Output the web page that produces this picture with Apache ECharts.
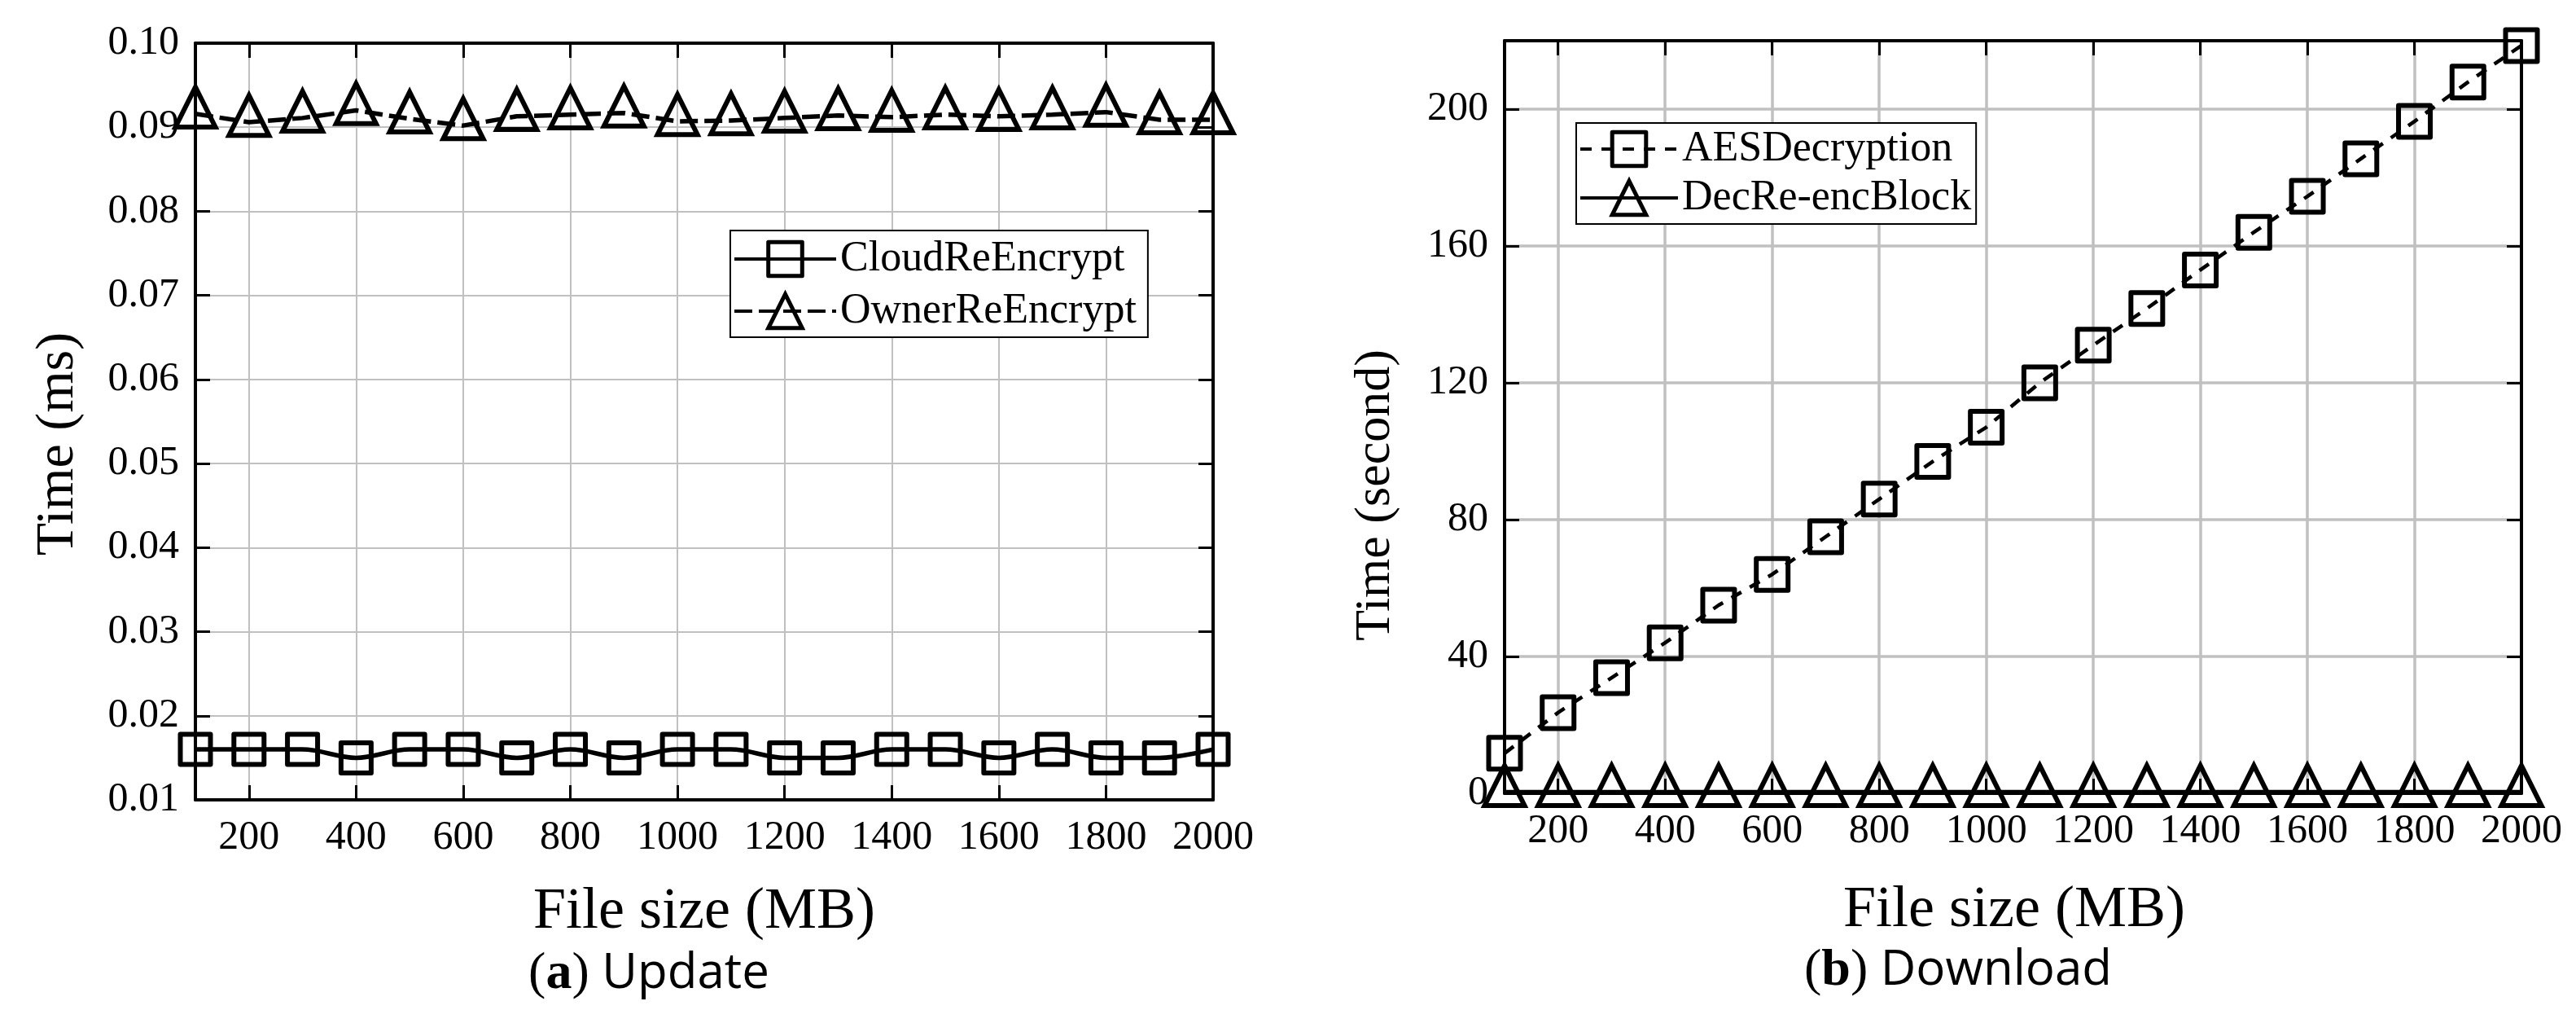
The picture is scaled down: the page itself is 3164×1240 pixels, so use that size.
<!DOCTYPE html>
<html>
<head>
<meta charset="utf-8">
<script src="https://cdn.jsdelivr.net/npm/echarts@6/dist/echarts.min.js"></script>
<style>
  html, body { margin: 0; padding: 0; background: #fff; }
  #main { width: 3164px; height: 1240px; }
</style>
</head>
<body>
<div id="main"></div>
<script>
// file sizes (MB)
var fileSizes = [100, 200, 300, 400, 500, 600, 700, 800, 900, 1000,
                 1100, 1200, 1300, 1400, 1500, 1600, 1700, 1800, 1900, 2000];

// (a) Update, time in ms
var cloudReEncrypt = [0.016, 0.016, 0.016, 0.015, 0.016, 0.016, 0.015, 0.016, 0.015, 0.016,
                      0.016, 0.015, 0.015, 0.016, 0.016, 0.015, 0.016, 0.015, 0.015, 0.016];
var ownerReEncrypt = [0.0916, 0.0906, 0.0911, 0.0920, 0.0910, 0.0902, 0.0913, 0.0915, 0.0917, 0.0907,
                      0.0908, 0.0911, 0.0914, 0.0912, 0.0915, 0.0913, 0.0915, 0.0918, 0.0909, 0.0909];

// (b) Download, time in seconds
var aesDecryption = [11.7, 23.6, 33.8, 44, 55, 64, 75, 86, 97, 107,
                     120, 131, 141.7, 153, 164, 174.5, 185.5, 196.4, 207.9, 218.6];
var decReencBlock = [0.3, 0.3, 0.3, 0.3, 0.3, 0.3, 0.3, 0.3, 0.3, 0.3,
                     0.3, 0.3, 0.3, 0.3, 0.3, 0.3, 0.3, 0.3, 0.3, 0.3];

var serif = '"Liberation Serif", "Times New Roman", serif';
var sans = '"Open Sans", "Noto Sans", sans-serif';

function pairs(xs, ys) {
    return xs.map(function (x, i) { return [x, ys[i]]; });
}

// bottom / left axes carry labels, top / right ones only line + ticks
function xAxisOf(grid, top, gridWidth) {
    return {
        type: 'value',
        gridIndex: grid,
        position: top ? 'top' : 'bottom',
        min: 100,
        max: 2000,
        splitNumber: 10,
        axisLine: { show: true, onZero: false, lineStyle: { color: '#000', width: 4 } },
        axisTick: { show: true, inside: true, length: 18, lineStyle: { color: '#000', width: 3 } },
        axisLabel: {
            show: !top, showMinLabel: false, margin: 22,
            color: '#000', fontFamily: serif, fontSize: 50,
            formatter: function (v) { return String(v); }
        },
        splitLine: { show: !top, lineStyle: { color: '#c0c0c0', width: gridWidth } }
    };
}

function yAxisOf(grid, right, min, max, step, fmt, gridWidth) {
    return {
        type: 'value',
        gridIndex: grid,
        position: right ? 'right' : 'left',
        min: min,
        max: max,
        interval: step,
        axisLine: { show: true, onZero: false, lineStyle: { color: '#000', width: 4 } },
        axisTick: { show: true, inside: true, length: 18, lineStyle: { color: '#000', width: 3 } },
        axisLabel: {
            show: !right, margin: 20, showMaxLabel: grid === 0,
            color: '#000', fontFamily: serif, fontSize: 50,
            formatter: fmt
        },
        splitLine: { show: !right, lineStyle: { color: '#c0c0c0', width: gridWidth } }
    };
}

function lineSeries(name, xi, yi, data, opt) {
    return {
        name: name,
        type: 'line',
        xAxisIndex: xi,
        yAxisIndex: yi,
        data: data,
        smooth: opt.smooth || false,
        symbol: opt.symbol,
        symbolSize: opt.size,
        symbolOffset: opt.offset || [0, 0],
        showAllSymbol: true,
        lineStyle: { color: '#000', width: opt.width, type: opt.dash || 'solid' },
        itemStyle: {
            color: 'rgba(255,255,255,0)',
            borderColor: '#000',
            borderWidth: 6,
            borderJoin: opt.join || 'miter'
        },
        emphasis: { disabled: true }
    };
}

// legend entry with a bold outlined symbol
function legendItem(name) {
    return {
        name: name,
        itemStyle: { color: 'rgba(255,255,255,0)', borderColor: '#000', borderWidth: 5 }
    };
}

var chart = echarts.init(document.getElementById('main'), null, { renderer: 'canvas' });

var legendBase = {
    orient: 'vertical',
    backgroundColor: '#fff',
    borderColor: '#000',
    borderWidth: 2,
    itemHeight: 52,
    itemStyle: { color: 'rgba(255,255,255,0)', borderColor: '#000', borderWidth: 5 },
    lineStyle: { width: 4 },
    textStyle: { color: '#000', fontFamily: serif, fontSize: 52 },
    selectedMode: false
};

var option = {
    backgroundColor: '#fff',
    animation: false,
    grid: [
        { left: 240, top: 53, width: 1250, height: 929 },
        { left: 1848, top: 50, width: 1249, height: 924 }
    ],
    xAxis: [
        xAxisOf(0, false, 2),
        xAxisOf(0, true, 2),
        xAxisOf(1, false, 3.5),
        xAxisOf(1, true, 3.5)
    ],
    yAxis: [
        yAxisOf(0, false, 0.01, 0.10, 0.01, function (v) { return v.toFixed(2); }, 2),
        yAxisOf(0, true, 0.01, 0.10, 0.01, null, 2),
        yAxisOf(1, false, 0, 220, 40, null, 3.5),
        yAxisOf(1, true, 0, 220, 40, null, 3.5)
    ],
    legend: [
        Object.assign({}, legendBase, {
            data: [legendItem('CloudReEncrypt'), legendItem('OwnerReEncrypt')],
            left: 897, top: 283,
            itemWidth: 125,
            itemGap: 12,
            padding: [9, 14, 6, 3]
        }),
        Object.assign({}, legendBase, {
            data: [legendItem('AESDecryption'), legendItem('DecRe-encBlock')],
            left: 1936, top: 151,
            itemWidth: 120,
            itemGap: 8,
            padding: [6, 6, 6, 3]
        })
    ],
    series: [
        lineSeries('CloudReEncrypt', 0, 0, pairs(fileSizes, cloudReEncrypt),
            { symbol: 'rect', size: 37, width: 5.5, smooth: 0.35, join: 'round' }),
        lineSeries('OwnerReEncrypt', 0, 0, pairs(fileSizes, ownerReEncrypt),
            { symbol: 'triangle', size: 49, offset: [0, '-17%'], width: 5.5, dash: [22, 8] }),
        lineSeries('AESDecryption', 2, 2, pairs(fileSizes, aesDecryption),
            { symbol: 'rect', size: 39, width: 4.5, dash: [14, 12], join: 'round' }),
        lineSeries('DecRe-encBlock', 2, 2, pairs(fileSizes, decReencBlock),
            { symbol: 'triangle', size: 49, offset: [0, '-17%'], width: 6 })
    ],
    graphic: [
        {
            type: 'text', x: 72, y: 545, rotation: Math.PI / 2,
            style: { text: 'Time (ms)', fill: '#000', font: '66px ' + serif, align: 'center', verticalAlign: 'middle' }
        },
        {
            type: 'text', x: 1690, y: 608, rotation: Math.PI / 2,
            style: { text: 'Time (second)', fill: '#000', font: '62px ' + serif, align: 'center', verticalAlign: 'middle' }
        },
        {
            type: 'text', x: 865, y: 1120,
            style: { text: 'File size (MB)', fill: '#000', font: '72px ' + serif, align: 'center', verticalAlign: 'middle' }
        },
        {
            type: 'text', x: 2474, y: 1118,
            style: { text: 'File size (MB)', fill: '#000', font: '72px ' + serif, align: 'center', verticalAlign: 'middle' }
        },
        {
            type: 'text', x: 797, y: 1196,
            style: {
                text: '{p|(}{b|a}{p|)}{s| Update}', align: 'center', verticalAlign: 'middle',
                rich: {
                    p: { fontFamily: serif, fontSize: 64, fill: '#000' },
                    b: { fontFamily: serif, fontSize: 64, fontWeight: 'bold', fill: '#000' },
                    s: { fontFamily: sans, fontSize: 60, fill: '#000' }
                }
            }
        },
        {
            type: 'text', x: 2405, y: 1192,
            style: {
                text: '{p|(}{b|b}{p|)}{s| Download}', align: 'center', verticalAlign: 'middle',
                rich: {
                    p: { fontFamily: serif, fontSize: 64, fill: '#000' },
                    b: { fontFamily: serif, fontSize: 64, fontWeight: 'bold', fill: '#000' },
                    s: { fontFamily: sans, fontSize: 60, fill: '#000' }
                }
            }
        }
    ]
};

chart.setOption(option);
</script>
</body>
</html>
